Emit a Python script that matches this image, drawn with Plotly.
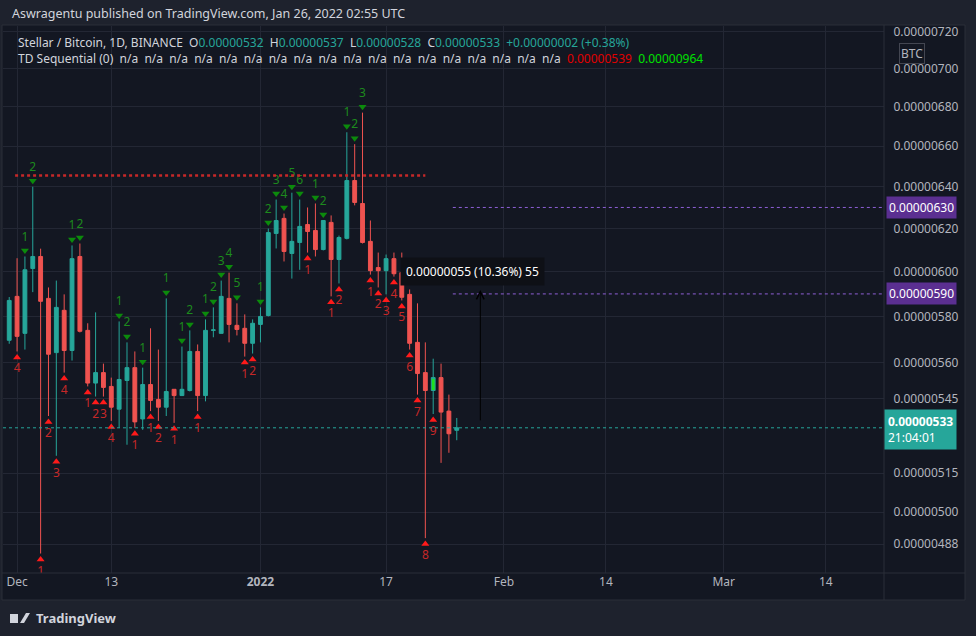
import pandas as pd
import numpy as np
import plotly.graph_objects as go

# prices in units of 1e-8 BTC (satoshi)
dates = pd.date_range("2021-11-30", periods=58, freq="D")
opens = [569.6,588.9,572.6,601.5,607.0,588.0,564.3,582.7,565.2,607.0,573.9,551.4,555.8,550.0,540.6,552.5,
         557.9,536.6,550.8,544.6,541.4,548.8,546.2,548.3,564.8,546.2,573.9,572.6,588.0,576.1,574.8,568.3,
         576.5,580.4,617.7,624.8,608.4,613.5,621.9,619.1,610.2,622.9,605.6,615.4,643.0,631.9,614.0,601.9,
         600.5,606.0,599.6,589.8,568.7,555.8,548.3,553.7,539.8,532.0]
highs = [588.6,606.2,607.0,640.0,610.6,592.9,596.0,589.8,612.1,613.0,577.0,581.8,559.6,553.7,577.8,568.7,
         564.8,557.9,574.8,565.6,588.0,548.8,566.9,573.9,567.8,578.7,584.0,596.0,599.6,585.8,580.9,578.7,
         584.0,620.0,633.8,627.1,637.1,633.8,630.0,631.9,623.8,626.2,616.7,667.0,661.0,677.0,623.8,608.8,
         607.9,608.8,608.8,592.0,585.8,568.7,561.7,559.6,546.6,537.0]
lows = [568.1,564.8,565.6,590.8,484.5,537.8,521.8,555.8,560.9,573.0,550.0,545.8,545.8,535.8,533.0,526.2,
        533.0,532.2,539.8,535.8,537.8,535.0,546.0,547.9,539.8,543.8,570.9,572.6,568.7,571.7,562.6,563.9,
        568.7,580.0,610.7,604.7,596.9,600.9,608.8,607.0,609.8,588.9,594.7,614.9,631.0,613.0,598.7,592.9,
        589.8,597.8,587.1,565.6,546.6,490.2,538.6,519.0,523.0,528.0]
closes = [587.1,571.3,600.9,607.0,586.7,563.6,584.0,565.2,606.0,573.5,551.4,555.8,549.6,541.4,552.9,557.9,
          535.4,550.8,544.2,541.4,547.9,546.2,548.8,564.8,546.2,573.9,574.1,588.9,576.5,574.3,568.3,577.0,
          580.0,618.1,623.8,609.3,614.0,621.0,618.6,610.2,623.8,605.6,615.8,643.0,632.4,613.5,600.5,600.5,
          606.0,599.1,588.5,568.3,555.4,548.3,553.7,539.4,530.6,533.0]
HIGHLIGHT_IDX = 54

# TD Sequential counts: (candle index, label)
td_up_idx = [2,3,8,9,14,15,17,20,22,23,25,26,27,28,29,32,33,34,35,36,37,39,40,43,44,45]
td_up_lab = ["1","2","1","2","1","2","1","1","1","2","1","2","3","4","5","1","2","3","4","5","6","1","2","1","2","3"]
td_dn_idx = [1,4,5,6,7,10,11,12,13,16,18,19,21,24,30,31,38,41,42,46,47,48,49,50,51,52,53,54]
td_dn_lab = ["4","1","2","3","4","1","2","3","4","1","1","2","1","1","1","2","1","1","2","1","2","3","4","5","6","7","8","9"]

ytick_vals = [720,700,680,660,640,620,600,580,560,545,515,500,488]
ytick_text = ["0.%08d" % v for v in ytick_vals]
xtick_vals = ["2021-12-01","2021-12-13","2022-01-01","2022-01-17","2022-02-01","2022-02-14","2022-03-01","2022-03-14"]
xtick_text = ["Dec","13","<b>2022</b>","17","Feb","14","Mar","14"]

resist_level = 645.5
purple_levels = [630, 590]
last_price = 533
measure_from, measure_to = 535.4, 591.7
measure_box_level = 600

BG = "#131722"; OUT = "#1e222d"; GRID = "#232734"; TXT = "#b2b5be"
UP = "#26a69a"; DN = "#ef5350"
FONT = "Noto Sans"

W_, H_ = 976, 636
L, R, T, B = 3, 884, 26, 573
def px(x): return (x - L) / (R - L)
def py(y): return (B - y) / (B - T)
lg = np.log10

fig = go.Figure()
idx = [i for i in range(len(dates)) if i != HIGHLIGHT_IDX]
fig.add_trace(go.Candlestick(
    x=[dates[i] for i in idx], open=[opens[i] for i in idx], high=[highs[i] for i in idx],
    low=[lows[i] for i in idx], close=[closes[i] for i in idx],
    increasing=dict(line=dict(color=UP, width=1), fillcolor=UP),
    decreasing=dict(line=dict(color=DN, width=1), fillcolor=DN),
    whiskerwidth=0, hoverinfo="skip"))
h = HIGHLIGHT_IDX
fig.add_trace(go.Candlestick(
    x=[dates[h]], open=[opens[h]], high=[highs[h]], low=[lows[h]], close=[closes[h]],
    increasing=dict(line=dict(color=UP, width=1), fillcolor="#1fe01f"),
    decreasing=dict(line=dict(color=UP, width=1), fillcolor="#1fe01f"),
    whiskerwidth=0, hoverinfo="skip"))

k = 1.0 / 1319.5
up_x = [dates[i] for i in td_up_idx]
fig.add_trace(go.Scatter(x=up_x, y=[highs[i]*np.exp(6*k) for i in td_up_idx], mode="markers",
                         marker=dict(symbol="triangle-down", size=7, color="#0c8a0c"), hoverinfo="skip"))
fig.add_trace(go.Scatter(x=up_x, y=[highs[i]*np.exp(19*k) for i in td_up_idx], mode="text",
                         text=td_up_lab, textfont=dict(color="#1d8a1d", size=12, family=FONT), hoverinfo="skip"))
dn_x = [dates[i] for i in td_dn_idx]
fig.add_trace(go.Scatter(x=dn_x, y=[lows[i]*np.exp(-6*k) for i in td_dn_idx], mode="markers",
                         marker=dict(symbol="triangle-up", size=7, color="#ff1a1a"), hoverinfo="skip"))
fig.add_trace(go.Scatter(x=dn_x, y=[lows[i]*np.exp(-18*k) for i in td_dn_idx], mode="text",
                         text=td_dn_lab, textfont=dict(color="#c62828", size=12, family=FONT), hoverinfo="skip"))

shapes = [
    dict(type="rect", xref="paper", yref="paper", x0=px(2), x1=px(965), y0=py(600), y1=py(25),
         fillcolor=BG, line=dict(color="#2a2e39", width=1), layer="below"),
    dict(type="line", xref="paper", yref="paper", x0=px(R), x1=px(R), y0=py(600), y1=py(25),
         line=dict(color="#2a2e39", width=1)),
    dict(type="line", xref="paper", yref="paper", x0=px(2), x1=px(965), y0=py(B), y1=py(B),
         line=dict(color="#2a2e39", width=1)),
    dict(type="line", xref="x", yref="y", x0="2021-11-30 18:00", x1="2022-01-22", y0=resist_level, y1=resist_level,
         line=dict(color="#c62828", width=2.5, dash="dot")),
    dict(type="line", xref="paper", yref="y", x0=0, x1=1, y0=last_price, y1=last_price,
         line=dict(color=UP, width=1, dash="dot")),
]
for lv in purple_levels:
    shapes.append(dict(type="line", xref="x", yref="y", x0="2022-01-25 12:00", x1="2022-03-22", y0=lv, y1=lv,
                       line=dict(color="#8e5fd6", width=1, dash="dot")))

ann = [
    dict(xref="paper", yref="paper", x=px(10), y=py(14), xanchor="left", yanchor="middle", showarrow=False,
         text="Aswragentu published on TradingView.com, Jan 26, 2022 02:55 UTC",
         font=dict(color="#d1d4dc", size=12.5, family=FONT)),
    dict(xref="paper", yref="paper", x=px(16), y=py(42), xanchor="left", yanchor="middle", showarrow=False,
         text=("Stellar / Bitcoin, 1D, BINANCE  O<span style='color:#26a69a'>0.00000532</span>  "
               "H<span style='color:#26a69a'>0.00000537</span>  L<span style='color:#26a69a'>0.00000528</span>  "
               "C<span style='color:#26a69a'>0.00000533</span>  <span style='color:#26a69a'>+0.00000002 (+0.38%)</span>"),
         font=dict(color="#d1d4dc", size=12, family=FONT)),
    dict(xref="paper", yref="paper", x=px(16), y=py(58), xanchor="left", yanchor="middle", showarrow=False,
         text=("TD Sequential (0)  " + "  ".join(["n/a"] * 18) +
               "  <span style='color:#e00000'>0.00000539</span>  <span style='color:#00e000'>0.00000964</span>"),
         font=dict(color="#d1d4dc", size=12, family=FONT)),
    dict(xref="x", yref="y", x="2022-01-29", y=lg(measure_to), ax="2022-01-29", ay=lg(measure_from),
         axref="x", ayref="y", showarrow=True, arrowhead=5, arrowsize=1.5, arrowwidth=1, arrowcolor="#000000", text=""),
    dict(xref="x", yref="y", x="2022-01-28", y=lg(measure_box_level), showarrow=False,
         text="0.00000055 (10.36%) 55", bgcolor="#0e1016", borderpad=5,
         font=dict(color="#ffffff", size=12, family=FONT)),
    dict(xref="paper", yref="paper", x=px(925), y=py(43), showarrow=False, text="BTC",
         bgcolor=BG, bordercolor="#434651", borderwidth=1, borderpad=1, font=dict(color=TXT, size=12, family=FONT)),
    dict(xref="paper", yref="paper", x=px(R), y=py(429), xanchor="left", yanchor="middle", showarrow=False,
         align="left", text="<b>0.00000533</b><br>21:04:01", bgcolor=UP, borderpad=3,
         font=dict(color="#ffffff", size=12, family=FONT)),
    dict(xref="paper", yref="paper", x=px(34), y=py(618), xanchor="left", yanchor="middle", showarrow=False,
         text="<b>TradingView</b>", font=dict(color="#d1d4dc", size=13, family=FONT)),
]
for lv in purple_levels:
    ann.append(dict(xref="paper", yref="y", x=px(R + 2), y=lg(lv), xanchor="left", showarrow=False,
                    text="0.%08d" % lv, bgcolor="#5b2f91", borderpad=2,
                    font=dict(color="#ffffff", size=12, family=FONT)))
shapes += [
    dict(type="rect", xref="paper", yref="paper", x0=px(10), x1=px(18), y0=py(623), y1=py(614),
         fillcolor="#d1d4dc", line=dict(width=0)),
    dict(type="path", xref="paper", yref="paper",
         path=f"M {px(20)},{py(623)} L {px(26)},{py(613)} L {px(30)},{py(613)} L {px(24)},{py(623)} Z",
         fillcolor="#d1d4dc", line=dict(width=0)),
]

fig.update_layout(
    width=W_, height=H_, paper_bgcolor=OUT, plot_bgcolor=BG, showlegend=False,
    margin=dict(l=L, r=W_ - R, t=T, b=H_ - B, autoexpand=False),
    font=dict(family=FONT, color=TXT, size=12),
    shapes=shapes, annotations=ann, hovermode=False,
    xaxis=dict(type="date", range=["2021-11-29 05:00", "2022-03-21 10:00"], rangeslider=dict(visible=False),
               tickvals=xtick_vals, ticktext=xtick_text, showgrid=True, gridcolor=GRID, zeroline=False,
               ticks="", tickfont=dict(color=TXT, size=12), showline=False),
    yaxis=dict(type="log", range=[lg(477.4), lg(723.0)], side="right",
               tickvals=ytick_vals, ticktext=ytick_text, showgrid=True, gridcolor=GRID, zeroline=False,
               ticks="outside", ticklen=6, tickcolor="rgba(0,0,0,0)", tickfont=dict(color=TXT, size=12)),
)
fig.write_html("out.html", config={"displayModeBar": False},
               post_script="document.body.style.margin='0';document.body.style.background='#1e222d';")
